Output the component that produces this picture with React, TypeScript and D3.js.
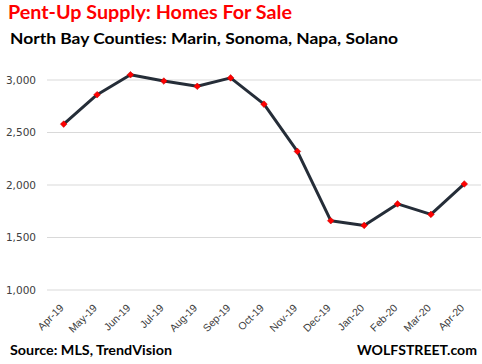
import React from 'react';
import * as d3 from 'd3';

const months = ['Apr-19', 'May-19', 'Jun-19', 'Jul-19', 'Aug-19', 'Sep-19', 'Oct-19', 'Nov-19', 'Dec-19', 'Jan-20', 'Feb-20', 'Mar-20', 'Apr-20'];
const homesForSale = [2580, 2860, 3050, 2990, 2940, 3020, 2770, 2320, 1660, 1615, 1820, 1720, 2010];
const yTicks = [1000, 1500, 2000, 2500, 3000];

const W = 482;
const H = 364;
const margin = { top: 80, right: 1, bottom: 74, left: 47 };

const App: React.FC = () => {
    const x = d3.scalePoint<string>()
        .domain(months)
        .range([margin.left, W - margin.right])
        .padding(0.5);

    const y = d3.scaleLinear()
        .domain([1000, 3000])
        .range([H - margin.bottom, margin.top]);

    const line = d3.line<number>()
        .x((_, i) => x(months[i]) as number)
        .y(d => y(d));

    // marker: small square turned 45deg, like the spreadsheet diamond
    const marker = d3.symbol().type(d3.symbolSquare).size(22)() as string;
    const fmt = d3.format(',');

    return (
        <div style={{ position: 'absolute', left: 0, top: 0 }}>
            <svg width={W} height={H} style={{ display: 'block', background: '#fff' }}>
                <text x={8} y={19} fill="#ff0000" fontFamily="Lato, 'Open Sans', sans-serif" fontWeight="bold" fontSize={18}
                    textLength={284} lengthAdjust="spacingAndGlyphs">Pent-Up Supply: Homes For Sale</text>
                <text x={10} y={44} fill="#000" fontFamily="Lato, 'Open Sans', sans-serif" fontWeight="bold" fontSize={15.5}
                    textLength={388} lengthAdjust="spacingAndGlyphs">North Bay Counties: Marin, Sonoma, Napa, Solano</text>

                {yTicks.map(t => (
                    <g key={t}>
                        <line x1={margin.left} x2={W - margin.right} y1={y(t)} y2={y(t)} stroke="#d9d9d9" strokeWidth={1} />
                        <text x={36} y={y(t)} dy="0.35em" textAnchor="end" fill="#404040"
                            fontFamily="'DejaVu Sans', Verdana, sans-serif" fontSize={10.5}>{fmt(t)}</text>
                    </g>
                ))}

                {months.map(m => (
                    <text key={m} transform={`translate(${(x(m) as number) - 2},${H - margin.bottom + 16}) rotate(-45)`}
                        textAnchor="end" dy="0.35em" fill="#404040" fontFamily="'Liberation Sans', Arial, sans-serif" fontSize={10.5}>{m}</text>
                ))}

                <path d={line(homesForSale) || ''} fill="none" stroke="#252d38" strokeWidth={3} strokeLinejoin="round" />
                {homesForSale.map((v, i) => (
                    <path key={i} d={marker} transform={`translate(${x(months[i])},${y(v)}) rotate(45)`} fill="#ff0000" stroke="#c00000" strokeWidth={0.5} />
                ))}

                <text x={10} y={355} fill="#000" fontFamily="Lato, 'Open Sans', sans-serif" fontWeight="bold" fontSize={12.5}
                    textLength={162} lengthAdjust="spacingAndGlyphs">Source: MLS, TrendVision</text>
                <text x={477} y={355} textAnchor="end" fill="#000" fontFamily="Lato, 'Open Sans', sans-serif" fontWeight="bold" fontSize={13}
                    textLength={120} lengthAdjust="spacingAndGlyphs">WOLFSTREET.com</text>
            </svg>
        </div>
    );
};

export default App;
